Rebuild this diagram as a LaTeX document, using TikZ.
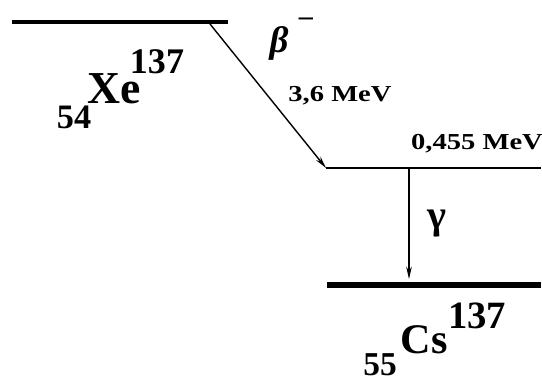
\documentclass[tikz,border=0pt]{standalone}
\usepackage{fontspec}
\setmainfont{Liberation Serif}
\usetikzlibrary{arrows.meta, positioning, calc}

\begin{document}
\begin{tikzpicture}[x=0.02cm, y=-0.02cm, >={Stealth[length=7pt, width=3.2pt]},
    energy/.style={font=\bfseries\fontsize{13}{13}\selectfont, inner sep=0pt},
    nuc/.style={font=\bfseries\fontsize{#1}{#1}\selectfont, inner sep=0pt}]
    \useasboundingbox (0,0) rectangle (542,383);

    % 能级
    \coordinate (X1) at (12,22);
    \coordinate (X2) at (228,22);
    \draw[line width=2.6pt] (X1) -- (X2);
    \coordinate (E1) at (326,168);
    \coordinate (E2) at (541,168);
    \draw[line width=1.1pt] (E1) -- (E2);
    \coordinate (G1) at (327,285);
    \coordinate (G2) at (541,285);
    \draw[line width=3pt] (G1) -- (G2);

    % beta 衰变
    \coordinate (B) at (210,24);
    \draw[->, line width=0.8pt] (B) -- (E1);
    \node[font=\bfseries\itshape\fontsize{21}{21}\selectfont, inner sep=0pt] (beta) at (279,43) {β};
    \node[nuc=16] (minus) at (306,22) {–};
    \node[energy] (q) at (340,96) {\scalebox{1.25}[1]{3,6 MeV}};

    % gamma 跃迁
    \coordinate (C) at (409,169);
    \coordinate (D) at (409,279);
    \draw[->, line width=0.6pt] (C) -- (D);
    \node[nuc=23] (gamma) at (437,224) {γ};
    \node[energy] (lvl) at (477,144) {\scalebox{1.25}[1]{0,455 MeV}};

    % 核素
    \node[nuc=26] (xe) at (114,89) {Xe};
    \node[nuc=20.5] (xeA) at (157,62) {137};
    \node[nuc=19.5] (xeZ) at (74,117) {54};
    \node[nuc=24] (cs) at (424,340) {Cs};
    \node[nuc=22] (csA) at (477,316) {137};
    \node[nuc=19] (csZ) at (380,365) {55};
\end{tikzpicture}
\end{document}
